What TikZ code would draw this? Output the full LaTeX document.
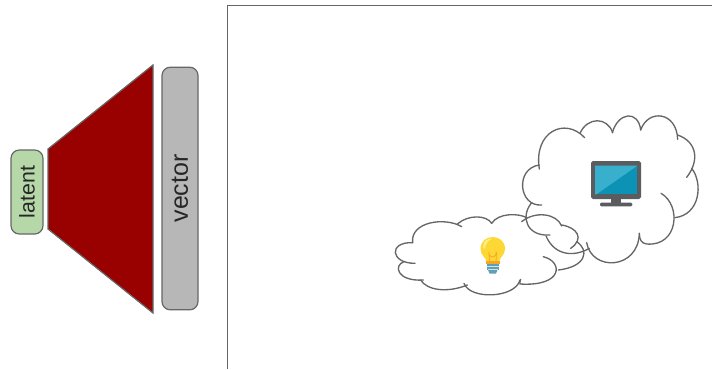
\documentclass[tikz,border=0pt]{standalone}
\usepackage{fontspec}
\setmainfont{Liberation Sans}
\usepackage{xcolor}
\definecolor{linegray}{RGB}{102,102,102}
\definecolor{softgreen}{RGB}{182,215,168}
\definecolor{softgray}{RGB}{183,183,183}
\definecolor{deepred}{RGB}{153,0,0}
\definecolor{bulbyellow}{RGB}{253,216,53}
\definecolor{bulbshine}{RGB}{255,238,120}
\definecolor{bulbbase}{RGB}{96,160,180}
\definecolor{bulbfoot}{RGB}{245,166,35}
\definecolor{screendark}{RGB}{12,146,180}
\definecolor{screenlight}{RGB}{56,175,205}
\definecolor{monitorgray}{RGB}{90,92,96}

\begin{document}
\begin{tikzpicture}[x=.75pt,y=-.75pt]
\tikzstyle{textbar}=[draw=linegray,line width=.9pt,rounded corners=2.2mm,inner sep=0pt,rotate=90,text=black!85]
\tikzstyle{cloudline}=[draw=linegray,line width=1pt,line cap=round]
\useasboundingbox (0,0) rectangle (712,369);

% left part
\node[textbar,fill=softgreen,minimum width=63pt,minimum height=24pt,font=\fontsize{16}{18}\selectfont] (latent) at (27,192) {latent};
\draw[draw=linegray,fill=deepred,line width=.9pt] (48,149)--(153,65)--(153,313)--(48,229)--cycle;
\node[textbar,fill=softgray,minimum width=182pt,minimum height=27pt,font=\fontsize{18.7}{20}\selectfont] (vector) at (180,188.5) {vector};

% frame
\draw[linegray,line width=.9pt] (227.5,369)--(227.5,5.5)--(712,5.5);

% big cloud
\begin{scope}[shift={(380,100)},x=.25pt,y=-.25pt]
\draw[cloudline] (478,207) .. controls (460,95) and (555,50) .. (614,113);
\draw[cloudline] (600,100) .. controls (622,50) and (682,50) .. (698,98);
\draw[cloudline] (697,98) .. controls (715,35) and (775,30) .. (782,90);
\draw[cloudline] (782,90) .. controls (805,25) and (890,35) .. (893,118);
\draw[cloudline] (893,105) .. controls (950,125) and (960,180) .. (920,232);
\draw[cloudline] (935,205) .. controls (970,250) and (960,345) .. (884,353);
\draw[cloudline] (843,280) .. controls (905,315) and (895,440) .. (800,432) .. controls (785,430) and (778,420) .. (778,400);
\draw[cloudline] (778,400) .. controls (775,510) and (635,515) .. (620,428);
\draw[cloudline] (628,445) .. controls (585,470) and (525,470) .. (498,408);
\draw[cloudline] (510,405) .. controls (440,410) and (420,350) .. (455,308);
\draw[cloudline] (485,315) .. controls (415,320) and (405,205) .. (478,195);

% small cloud
\draw[cloudline] (98,428) .. controls (90,365) and (195,350) .. (245,380);
\draw[cloudline] (232,372) .. controls (265,343) and (320,345) .. (335,370);
\draw[cloudline] (335,370) .. controls (355,338) and (415,340) .. (438,352);
\draw[cloudline] (425,365) .. controls (465,332) and (530,340) .. (545,378);
\draw[cloudline] (545,375) .. controls (590,382) and (615,415) .. (572,445);
\draw[cloudline] (590,425) .. controls (628,450) and (620,500) .. (535,510);
\draw[cloudline] (490,470) .. controls (550,485) and (550,560) .. (420,552) .. controls (418,548) and (420,544) .. (422,538);
\draw[cloudline] (420,540) .. controls (405,595) and (270,600) .. (252,550);
\draw[cloudline] (262,555) .. controls (200,580) and (140,570) .. (122,540);
\draw[cloudline] (130,540) .. controls (50,545) and (40,495) .. (72,485);
\draw[cloudline] (105,490) .. controls (30,490) and (25,425) .. (98,428);
\end{scope}

% bulb
\fill[bulbyellow] (486.5,263) .. controls (486,256) and (480.5,256) .. (480.5,249) .. controls (480.5,233) and (505,233) .. (505,249) .. controls (505,256) and (499.5,256) .. (499,263)--cycle;
\fill[bulbshine] (483,247) .. controls (483,241) and (487,238.5) .. (492,238.5) .. controls (487.5,241) and (485.5,244) .. (485,249)--cycle;
\draw[bulbfoot,line width=.6pt] (489.5,262)--(489,252) (496,262)--(496.5,252) (489,252) arc (200:-20:3.7);
\fill[bulbfoot] (486,261) rectangle (499.5,263.5);
\fill[bulbbase] (486.5,263.5) rectangle (499,270);
\fill[bulbbase] (488,270) -- (497.5,270) -- (496,273.5) -- (489.5,273.5) -- cycle;
\draw[white!70!bulbbase,line width=.4pt] (487,266.5)--(498.5,266.5) (488,269.5)--(497.5,269.5);

% monitor
\fill[monitorgray,rounded corners=.5mm] (591,161) rectangle (641,199);
\fill[monitorgray] (610.7,198)rectangle(621.3,203);
\fill[monitorgray,rounded corners=.3mm] (600,202.7) rectangle (632.3,206.3);
\fill[screendark] (595,165.7) rectangle (637.3,194.3);
\fill[screenlight] (595,165.7)--(637.3,165.7)--(596.5,194.3)--(595,194.3)--cycle;
\end{tikzpicture}
\end{document}
